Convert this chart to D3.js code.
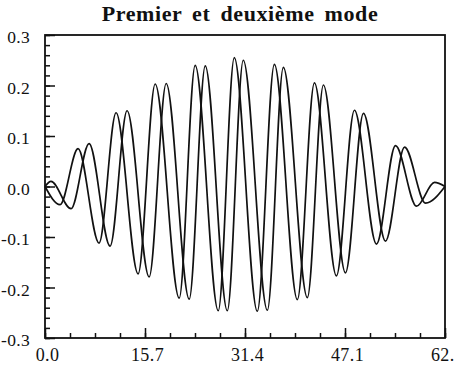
<!DOCTYPE html>
<html>
<head>
<meta charset="utf-8">
<script src="https://cdnjs.cloudflare.com/ajax/libs/d3/7.8.5/d3.min.js"></script>
<style>
  body { margin: 0; background: #fff; }
  svg { display: block; }
  text { font-family: "Liberation Serif", "Times New Roman", serif; fill: #111; }
</style>
</head>
<body>
<svg id="svg"></svg>
<script>
// extrema (x, y) for each mode
var mode1X = [0, 0.94, 4.09, 6.92, 10.22, 12.89, 16.35, 19.03, 22.64, 25.16, 28.62,
              31.13, 34.91, 37.42, 41.19, 43.71, 47.17, 50.00, 53.46, 56.45, 59.75, 62.8];
var mode1Y = [0, 0.010, -0.044, 0.085, -0.118, 0.150, -0.179, 0.204, -0.223, 0.239, -0.246,
              0.250, -0.245, 0.236, -0.220, 0.201, -0.171, 0.145, -0.108, 0.078, -0.033, 0];

var mode2X = [0, 2.36, 5.19, 8.49, 11.16, 14.62, 17.30, 21.07, 23.58, 27.20, 29.72,
              33.33, 36.01, 39.62, 42.30, 45.75, 48.58, 52.04, 55.03, 58.33, 61.16, 62.8];
var mode2Y = [0, -0.036, 0.075, -0.112, 0.146, -0.173, 0.203, -0.221, 0.240, -0.246, 0.255,
              -0.247, 0.242, -0.224, 0.205, -0.177, 0.151, -0.114, 0.081, -0.039, 0.008, 0];

var xMajor = [0, 15.7, 31.4, 47.1, 62.8];
var xLabels = ["0.0", "15.7", "31.4", "47.1", "62.8"];
var yMajor = [-0.3, -0.2, -0.1, 0.0, 0.1, 0.2, 0.3];
var yLabels = ["-0.3", "-0.2", "-0.1", "0.0", "0.1", "0.2", "0.3"];
var titleText = "Premier et deuxième mode";

var width = 454, height = 373;
var plotLeft = 45, plotRight = 445, plotTop = 35, plotBottom = 338;

var svg = d3.select("#svg").attr("width", width).attr("height", height);

var x = d3.scaleLinear().domain([0, 62.8]).range([plotLeft, plotRight]);
var y = d3.scaleLinear().domain([-0.3, 0.3]).range([plotBottom, plotTop]);

// minor ticks: 16 steps on x, 30 on y
var xMinor = d3.range(17).map(function(i) { return i * 62.8 / 16; });
var yMinor = d3.range(31).map(function(i) { return -0.3 + i * 0.02; });

svg.append("g")
    .attr("transform", "translate(0," + plotBottom + ")")
    .call(d3.axisBottom(x).tickValues(xMinor).tickSize(-5).tickFormat(""))
    .call(function(g) { g.select(".domain").remove(); });

svg.append("g")
    .attr("transform", "translate(0," + plotBottom + ")")
    .call(d3.axisBottom(x).tickValues(xMajor).tickSize(-10).tickPadding(10)
        .tickFormat(function(d, i) { return xLabels[i]; }))
    .call(function(g) {
        g.select(".domain").remove();
        g.selectAll("text").attr("font-size", 18).attr("dx", 2)
            .style("font-family", "Liberation Serif").attr("letter-spacing", 0.4);
    });

svg.append("g")
    .attr("transform", "translate(0,0)")
    .call(d3.axisLeft(y).tickValues(yMinor).tickSize(-5).tickFormat(""))
    .attr("transform", "translate(" + plotLeft + ",0)")
    .call(function(g) { g.select(".domain").remove(); });

svg.append("g")
    .attr("transform", "translate(" + plotLeft + ",0)")
    .call(d3.axisLeft(y).tickValues(yMajor).tickSize(-10).tickPadding(15)
        .tickFormat(function(d, i) { return yLabels[i]; }))
    .call(function(g) {
        g.select(".domain").remove();
        g.selectAll("text").attr("font-size", 17.5).attr("dy", "0.45em")
            .style("font-family", "Liberation Serif").attr("letter-spacing", 0.3);
    });

svg.selectAll(".tick line").attr("stroke", "#111").attr("stroke-width", 1.5);

// frame
svg.append("rect")
    .attr("x", plotLeft).attr("y", plotTop)
    .attr("width", plotRight - plotLeft).attr("height", plotBottom - plotTop)
    .attr("fill", "none").attr("stroke", "#111").attr("stroke-width", 1.8);

var line = d3.line().curve(d3.curveMonotoneX)
    .x(function(d) { return x(d[0]); })
    .y(function(d) { return y(d[1]); });

var modes = [d3.zip(mode1X, mode1Y), d3.zip(mode2X, mode2Y)];
svg.selectAll(".mode")
    .data(modes)
    .enter().append("path")
    .attr("class", "mode")
    .attr("d", line)
    .attr("fill", "none")
    .attr("stroke", "#111")
    .attr("stroke-width", 1.7);

svg.append("text")
    .attr("x", 240).attr("y", 21)
    .attr("text-anchor", "middle")
    .attr("font-size", 22).attr("font-weight", "bold")
    .attr("letter-spacing", 0.6).attr("word-spacing", 4)
    .text(titleText);
</script>
</body>
</html>
